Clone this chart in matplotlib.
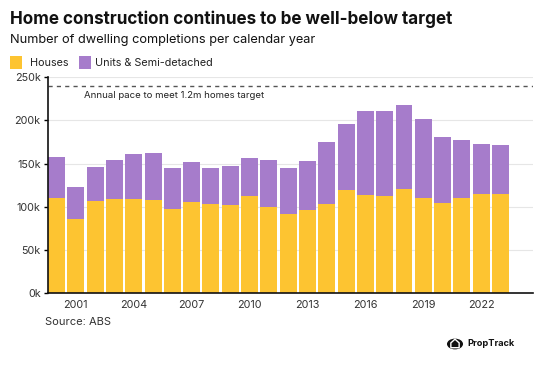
import numpy as np
import matplotlib.pyplot as plt
from matplotlib.patches import Rectangle, Circle, Polygon

# Données (milliers de logements)
years = list(range(2000, 2024))
houses = [110.5, 86, 107, 109, 108.5, 107.7, 97, 105.8, 103, 102.4, 112, 99.7,
          92, 96.6, 103.6, 119, 114, 112.4, 121, 110, 104.7, 110, 114.7, 114.3]
totals = [158, 122.7, 146, 154, 161, 162, 145, 151.6, 145, 146.6, 156, 153.6,
          144.7, 152.4, 175.5, 196, 211, 211, 218, 201, 180.5, 177.5, 172.9, 171.7]
units = [t - h for t, h in zip(totals, houses)]
target = 240
tick_years = [2001, 2004, 2007, 2010, 2013, 2016, 2019, 2022]
y_ticks = [0, 50, 100, 150, 200, 250]

YELLOW = '#FDC431'
PURPLE = '#A67CCB'

plt.rcParams['font.family'] = ['Inter', 'DejaVu Sans']

fig = plt.figure(figsize=(5.54, 3.71), dpi=100)
ax = fig.add_axes([0.086, 0.210, 0.876, 0.582])

ax.bar(years, houses, width=0.88, color=YELLOW, zorder=2)
ax.bar(years, units, bottom=houses, width=0.88, color=PURPLE, zorder=2)

ax.axhline(target, color='#555555', linestyle=(0, (3, 3)), linewidth=1, zorder=3)
ax.text(2001.4, target - 6, 'Annual pace to meet 1.2m homes target',
        fontsize=6.9, color='#222222', va='top', ha='left')

ax.set_xlim(1999.54, 2024.68)
ax.set_ylim(0, 250)
ax.set_yticks(y_ticks)
ax.set_yticklabels([f'{v}k' for v in y_ticks], fontsize=7.8, color='#333333')
ax.set_xticks(tick_years)
ax.set_xticklabels([str(y) for y in tick_years], fontsize=7.8, color='#333333')
ax.tick_params(axis='x', length=0, pad=5)
ax.tick_params(axis='y', length=3, width=1, pad=2)
ax.grid(axis='y', color='#E6E6E6', linewidth=0.8, zorder=0)

for s in ['top', 'right']:
    ax.spines[s].set_visible(False)
for s in ['left', 'bottom']:
    ax.spines[s].set_linewidth(1.2)
    ax.spines[s].set_color('#111111')
    ax.spines[s].set_zorder(4)

# Titre, sous-titre, légende
fig.text(0.018, 0.935, 'Home construction continues to be well-below target',
         fontsize=12.3, fontweight='bold', color='#111111', va='baseline')
fig.text(0.018, 0.885, 'Number of dwelling completions per calendar year',
         fontsize=9.2, color='#111111', va='baseline')
fig.patches.append(Rectangle((0.018, 0.815), 0.022, 0.033, transform=fig.transFigure,
                             facecolor=YELLOW, edgecolor='none'))
fig.text(0.055, 0.831, 'Houses', fontsize=7.8, color='#222222', va='center')
fig.patches.append(Rectangle((0.143, 0.815), 0.022, 0.033, transform=fig.transFigure,
                             facecolor=PURPLE, edgecolor='none'))
fig.text(0.172, 0.831, 'Units & Semi-detached', fontsize=7.8, color='#222222', va='center')

fig.text(0.081, 0.132, 'Source: ABS', fontsize=8, color='#333333', va='center')

# Logo PropTrack
cx, cy = 455 / 554, 1 - 344 / 371
fig.patches.append(Circle((cx, cy), 0.0145, transform=fig.transFigure,
                          facecolor='#111111', edgecolor='none'))
house = [(cx - 0.0075, cy - 0.010), (cx - 0.0075, cy + 0.003), (cx, cy + 0.013),
         (cx + 0.0075, cy + 0.003), (cx + 0.0075, cy - 0.010)]
fig.patches.append(Polygon(house, closed=True, transform=fig.transFigure,
                           facecolor='none', edgecolor='white', linewidth=1))
fig.text(0.843, cy, 'PropTrack', fontsize=6.6, fontweight='bold', color='#111111', va='center')

fig.savefig('out.png', dpi=100, facecolor='white')
